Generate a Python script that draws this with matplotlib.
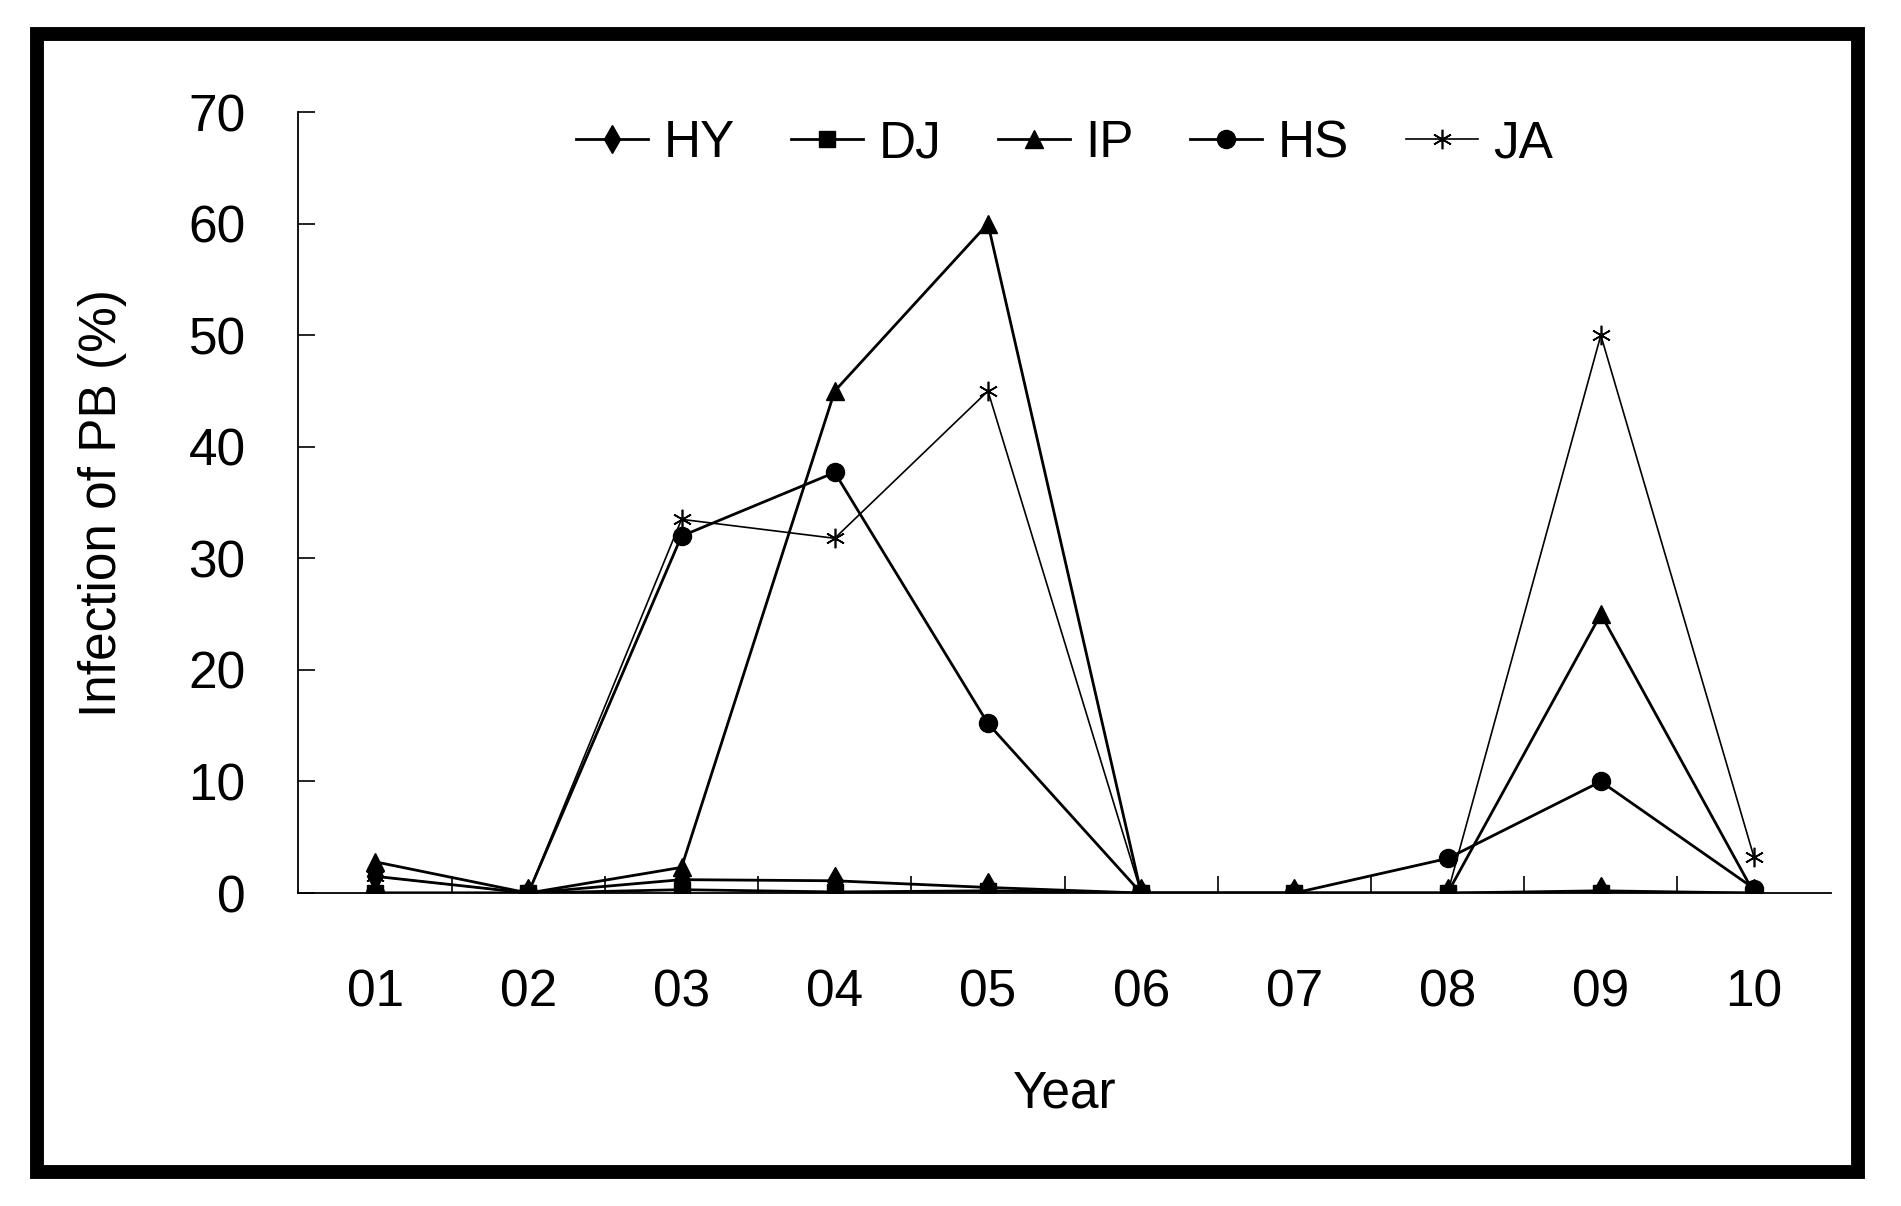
import matplotlib.pyplot as plt
from matplotlib.patches import Rectangle

plt.rcParams['font.family'] = ['Liberation Sans Narrow', 'Liberation Sans', 'DejaVu Sans']

years = ['01', '02', '03', '04', '05', '06', '07', '08', '09', '10']
hy = [1.5, 0, 1.2, 1.1, 0.5, 0, 0, 0, 0.2, 0]
dj = [0, 0, 0.3, 0.1, 0.2, 0, 0, 0, 0, 0]
ip = [2.8, 0, 2.3, 45, 60, 0, 0, 0, 25, 0]
hs = [0, 0, 32, 37.7, 15.2, 0, 0, 3.1, 10, 0.4]
ja = [1.5, 0, 33.5, 31.8, 45, 0, 0, 0, 50, 3.2]

fig = plt.figure(figsize=(19.01, 12.06), dpi=100)
ax = fig.add_axes([0.157, 0.2595, 0.806, 0.6475])

x = list(range(1, len(years) + 1))
lw = 2.0
ax.plot(x, hy, color='black', lw=lw, marker='d', markersize=14, label='HY')
ax.plot(x, dj, color='black', lw=lw, marker='s', markersize=11, label='DJ')
ax.plot(x, ip, color='black', lw=lw, marker='^', markersize=13, label='IP')
ax.plot(x, hs, color='black', lw=lw, marker='o', markersize=13, label='HS')
ax.plot(x, ja, color='black', lw=1.2, marker=(6, 2, 0), markersize=14,
        markeredgewidth=1.2, label='JA')

ax.set_xlim(0.5, 10.5)
ax.set_ylim(0, 70)
ax.set_yticks(range(0, 71, 10))
ax.set_xticks(x)
ax.set_xticklabels(years)
ax.set_xticks([i + 0.5 for i in range(1, 10)], minor=True)
ax.tick_params(axis='x', which='major', length=0, pad=54, labelsize=37)
ax.tick_params(axis='x', which='minor', direction='in', length=12, width=1.2)
ax.tick_params(axis='y', direction='in', length=12, width=1.2, pad=38, labelsize=37)

for s in ['top', 'right']:
    ax.spines[s].set_visible(False)
for s in ['left', 'bottom']:
    ax.spines[s].set_linewidth(1.3)

ax.set_xlabel('Year', fontsize=37, labelpad=38)
ax.set_ylabel('Infection of PB (%)', fontsize=37, labelpad=44)

ax.legend(loc='upper center', bbox_to_anchor=(0.5, 1.05), ncol=5, frameon=False,
          fontsize=37, handlelength=1.4, handletextpad=0.3, columnspacing=1.1)

fig.patches.append(Rectangle((0.0195, 0.028), 0.958, 0.944, transform=fig.transFigure,
                             fill=False, edgecolor='black', linewidth=10))

fig.savefig('out.png', dpi=100)
